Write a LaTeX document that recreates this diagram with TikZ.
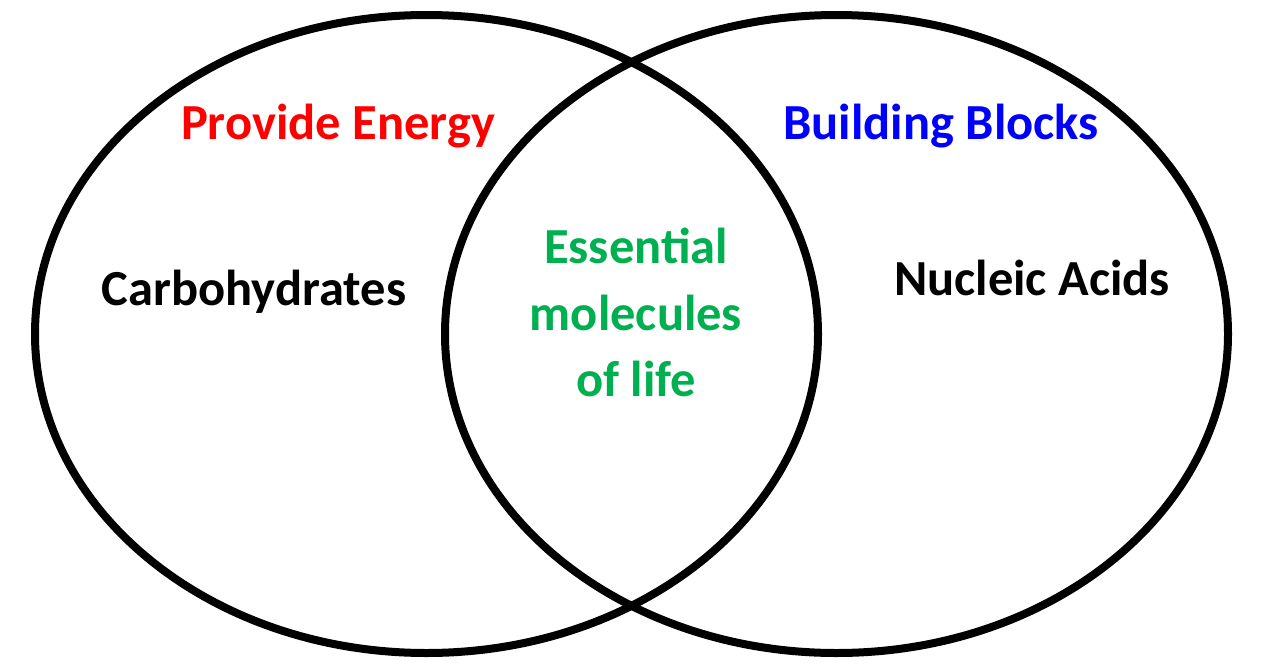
\documentclass[tikz,border=0pt]{standalone}
\usetikzlibrary{shapes.geometric}
\usepackage{fontspec}
\setmainfont{Carlito}
\definecolor{eGreen}{RGB}{0,176,80}
\begin{document}
\begin{tikzpicture}[x=1pt,y=-1pt,
  ring/.style={draw=black,line width=8pt,ellipse,minimum width=783pt,minimum height=638pt,inner sep=0pt},
  lbl/.style={font=\bfseries\fontsize{50.5}{67}\selectfont,inner sep=0pt,align=center}]
\useasboundingbox (0,0) rectangle (1263,667);
\fill[white] (0,0) rectangle (1263,667);
\node[ring] (L) at (426.5,334) {};
\node[ring] (R) at (836.5,334) {};
\node[lbl,text=red,anchor=base] (pe) at (338,139) {Provide Energy};
\node[lbl,text=blue,anchor=base] (bb) at (941,139) {Building Blocks};
\node[lbl,text=black,anchor=base] (ch) at (254,305) {Carbohydrates};
\node[lbl,text=black,anchor=base] (na) at (1032,295) {Nucleic Acids};
\node[lbl,text=eGreen,anchor=base] (em1) at (636,263) {Essential};
\node[lbl,text=eGreen,anchor=base] (em2) at (636,330) {molecules};
\node[lbl,text=eGreen,anchor=base] (em3) at (636,396) {of life};
\end{tikzpicture}
\end{document}
